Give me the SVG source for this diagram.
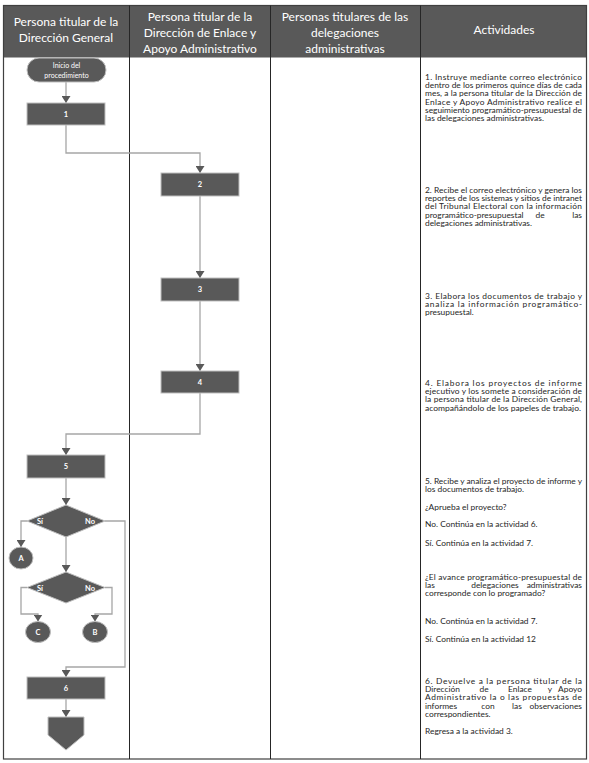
<svg xmlns="http://www.w3.org/2000/svg" width="589" height="763" viewBox="0 0 589 763">
<defs>
<marker id="arr" markerUnits="userSpaceOnUse" markerWidth="9" markerHeight="8" refX="4.5" refY="7" orient="0" viewBox="0 0 9 8">
<path d="M0,0 L9,0 L4.5,7 Z" fill="#595959"/>
</marker>
<style>
.hd{font-family:Lato,"Liberation Sans",sans-serif;font-size:12px;fill:#ffffff;text-anchor:middle}
.tx{font-family:Lato,"Liberation Sans",sans-serif;font-size:8.4px;fill:#262626}
.lb{font-family:Lato,"Liberation Sans",sans-serif;font-size:7.5px;fill:#ffffff;text-anchor:middle;font-weight:bold}
.sm{font-family:Lato,"Liberation Sans",sans-serif;font-size:7px;fill:#ffffff;text-anchor:middle}
.nd{fill:#595959;stroke:#bfbfbf;stroke-width:1}
.cn{fill:none;stroke:#a6a6a6;stroke-width:1.3;marker-end:url(#arr)}
.ln{stroke:#262626;stroke-width:1}
</style>
</defs>
<g id="table">
<rect x="3.5" y="5.5" width="583" height="52" fill="#595959"/>
<rect x="3.5" y="5.5" width="583" height="753.5" fill="none" stroke="#404040" stroke-width="1.2"/>
<line class="ln" x1="129.5" y1="5.5" x2="129.5" y2="759"/>
<line class="ln" x1="270.5" y1="5.5" x2="270.5" y2="759"/>
<line class="ln" x1="420.5" y1="5.5" x2="420.5" y2="759"/>
<text class="hd" x="66" y="26">Persona titular de la</text>
<text class="hd" x="66" y="42">Dirección General</text>
<text class="hd" x="200" y="21">Persona titular de la</text>
<text class="hd" x="200" y="37">Dirección de Enlace y</text>
<text class="hd" x="200" y="53">Apoyo Administrativo</text>
<text class="hd" x="345" y="21">Personas titulares de las</text>
<text class="hd" x="345" y="37">delegaciones</text>
<text class="hd" x="345" y="53">administrativas</text>
<text class="hd" x="504" y="34">Actividades</text>
</g>
<g id="connectors">
<path class="cn" d="M66 82 V103"/>
<path class="cn" d="M66 125 V153 H200 V173"/>
<path class="cn" d="M200 196 V278"/>
<path class="cn" d="M200 301 V371"/>
<path class="cn" d="M200 393 V434 H66 V455"/>
<path class="cn" d="M66 478 V505"/>
<path class="cn" d="M27 521 H21 V547"/>
<path class="cn" d="M105 521 H125 V667 H66 V677"/>
<path class="cn" d="M66 537 V572"/>
<path class="cn" d="M27 587.5 H21 V614 H38 V621.5"/>
<path class="cn" d="M105 587.5 H112 V614 H95 V621.5"/>
<path class="cn" d="M66 699 V717"/>
</g>
<g id="inicio">
<rect class="nd" x="27" y="58" width="79" height="24" rx="12"/>
<text class="sm" x="66.5" y="68">Inicio del</text>
<text class="sm" x="66.5" y="77.5">procedimiento</text>
</g>
<g id="n1"><rect class="nd" x="27" y="103" width="78" height="22"/><text class="lb" x="66" y="116.5">1</text></g>
<g id="n2"><rect class="nd" x="161" y="173" width="78" height="23"/><text class="lb" x="200" y="187">2</text></g>
<g id="n3"><rect class="nd" x="161" y="278" width="78" height="23"/><text class="lb" x="200" y="292">3</text></g>
<g id="n4"><rect class="nd" x="161" y="371" width="78" height="22"/><text class="lb" x="200" y="384.5">4</text></g>
<g id="n5"><rect class="nd" x="27" y="455" width="78" height="23"/><text class="lb" x="66" y="469">5</text></g>
<g id="d1"><polygon class="nd" points="66,505 105,521 66,537 27,521" stroke="none"/><text class="lb" x="40" y="524">Sí</text><text class="lb" x="90" y="524">No</text></g>
<g id="d2"><polygon class="nd" points="66,572 105,587.5 66,603 27,587.5" stroke="none"/><text class="lb" x="40" y="590.5">Sí</text><text class="lb" x="90" y="590.5">No</text></g>
<g id="cA"><ellipse class="nd" cx="21" cy="558" rx="12" ry="11" stroke="none"/><text class="lb" x="21" y="560.5">A</text></g>
<g id="cC"><ellipse class="nd" cx="38" cy="632" rx="12.5" ry="10.5" stroke="none"/><text class="lb" x="38" y="634.5">C</text></g>
<g id="cB"><ellipse class="nd" cx="95" cy="632" rx="12.5" ry="10.5" stroke="none"/><text class="lb" x="95" y="634.5">B</text></g>
<g id="n6"><rect class="nd" x="27" y="677" width="78" height="22"/><text class="lb" x="66" y="690.5">6</text></g>
<g id="fin"><polygon class="nd" points="48,717 84,717 84,735 66,750 48,735" stroke="none"/></g>
<g id="actividades">
<text class="tx" x="425" y="80" textLength="157" lengthAdjust="spacing">1. Instruye mediante correo electrónico</text>
<text class="tx" x="425" y="88.2" textLength="157" lengthAdjust="spacing">dentro de los primeros quince días de cada</text>
<text class="tx" x="425" y="96.4" textLength="157" lengthAdjust="spacing">mes, a la persona titular de la Dirección de</text>
<text class="tx" x="425" y="104.6" textLength="157" lengthAdjust="spacing">Enlace y Apoyo Administrativo realice el</text>
<text class="tx" x="425" y="112.8" textLength="157" lengthAdjust="spacing">seguimiento programático-presupuestal de</text>
<text class="tx" x="425" y="121">las delegaciones administrativas.</text>

<text class="tx" x="425" y="193" textLength="157" lengthAdjust="spacing">2. Recibe el correo electrónico y genera los</text>
<text class="tx" x="425" y="201.2" textLength="157" lengthAdjust="spacing">reportes de los sistemas y sitios de intranet</text>
<text class="tx" x="425" y="209.4" textLength="157" lengthAdjust="spacing">del Tribunal Electoral con la información</text>
<text class="tx" x="425" y="217.6">programático-presupuestal</text>
<text class="tx" x="540" y="217.6" text-anchor="middle">de</text>
<text class="tx" x="582" y="217.6" text-anchor="end">las</text>
<text class="tx" x="425" y="225.8">delegaciones administrativas.</text>

<text class="tx" x="425" y="299" textLength="157" lengthAdjust="spacing">3. Elabora los documentos de trabajo y</text>
<text class="tx" x="425" y="307.2" textLength="157" lengthAdjust="spacing">analiza la información programático-</text>
<text class="tx" x="425" y="315.4">presupuestal.</text>

<text class="tx" x="425" y="386" textLength="157" lengthAdjust="spacing">4. Elabora los proyectos de informe</text>
<text class="tx" x="425" y="394.2" textLength="157" lengthAdjust="spacing">ejecutivo y los somete a consideración de</text>
<text class="tx" x="425" y="402.4" textLength="157" lengthAdjust="spacing">la persona titular de la Dirección General,</text>
<text class="tx" x="425" y="410.6" textLength="156" lengthAdjust="spacingAndGlyphs">acompañándolo de los papeles de trabajo.</text>

<text class="tx" x="425" y="484" textLength="157" lengthAdjust="spacing">5. Recibe y analiza el proyecto de informe y</text>
<text class="tx" x="425" y="492.2">los documentos de trabajo.</text>
<text class="tx" x="425" y="510">¿Aprueba el proyecto?</text>
<text class="tx" x="425" y="527">No. Continúa en la actividad 6.</text>
<text class="tx" x="425" y="546">Sí. Continúa en la actividad 7.</text>
<text class="tx" x="425" y="580" textLength="157" lengthAdjust="spacing">¿El avance programático-presupuestal de</text>
<text class="tx" x="425" y="588.2">las</text>
<text class="tx" x="495" y="588.2" text-anchor="middle">delegaciones</text>
<text class="tx" x="582" y="588.2" text-anchor="end">administrativas</text>
<text class="tx" x="425" y="596.4">corresponde con lo programado?</text>
<text class="tx" x="425" y="624">No. Continúa en la actividad 7.</text>
<text class="tx" x="425" y="642">Sí. Continúa en la actividad 12</text>

<text class="tx" x="425" y="684" textLength="157" lengthAdjust="spacing">6. Devuelve a la persona titular de la</text>
<text class="tx" x="425" y="692.2">Dirección</text>
<text class="tx" x="484" y="692.2" text-anchor="middle">de</text>
<text class="tx" x="520" y="692.2" text-anchor="middle">Enlace</text>
<text class="tx" x="550" y="692.2" text-anchor="middle">y</text>
<text class="tx" x="582" y="692.2" text-anchor="end">Apoyo</text>
<text class="tx" x="425" y="700.4" textLength="157" lengthAdjust="spacing">Administrativo la o las propuestas de</text>
<text class="tx" x="425" y="708.6">informes</text>
<text class="tx" x="488" y="708.6" text-anchor="middle">con</text>
<text class="tx" x="517" y="708.6" text-anchor="middle">las</text>
<text class="tx" x="582" y="708.6" text-anchor="end">observaciones</text>
<text class="tx" x="425" y="716.8">correspondientes.</text>
<text class="tx" x="425" y="734">Regresa a la actividad 3.</text>
</g>
</svg>
